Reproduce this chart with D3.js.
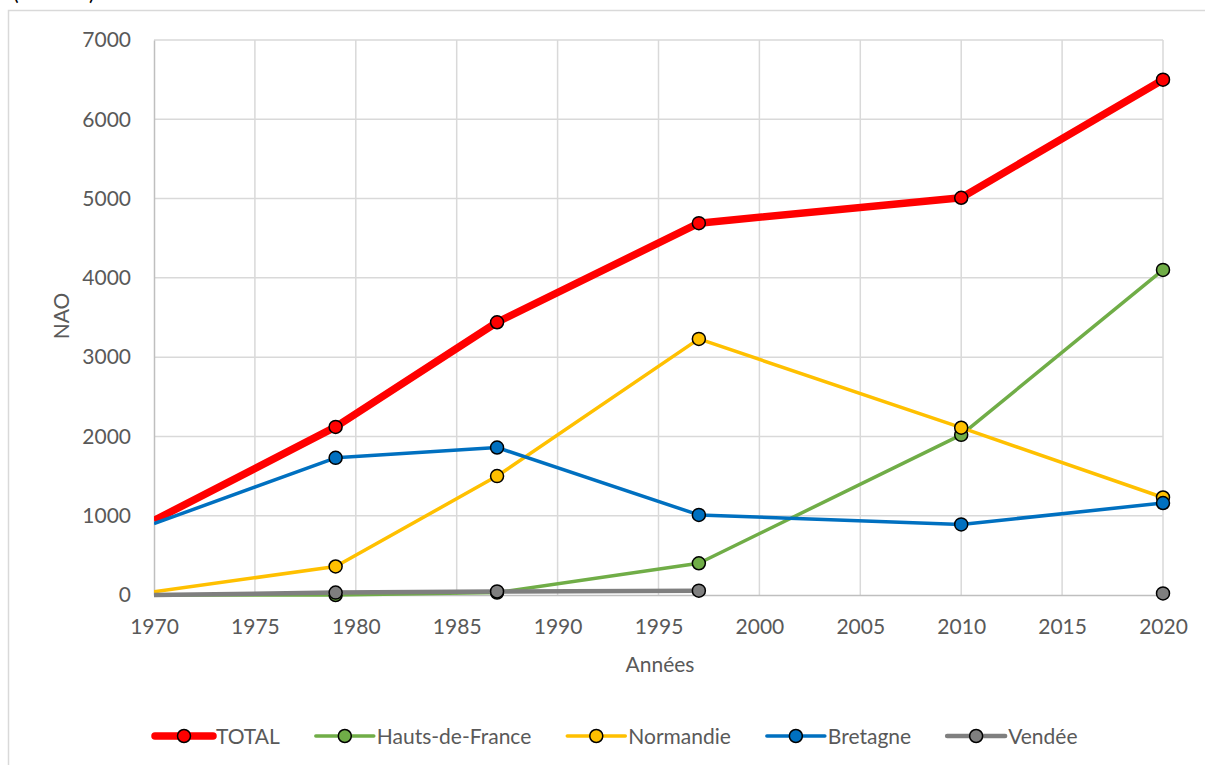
<!DOCTYPE html>
<html>
<head>
<meta charset="utf-8">
<script src="https://cdn.jsdelivr.net/npm/d3@7"></script>
<style>
  body { margin: 0; background: #fff; }
  svg { display: block; font-family: Lato, "Open Sans", sans-serif; }
</style>
</head>
<body>
<svg id="viz_area" width="1205" height="765"></svg>
<script>
// data
const years = [1970, 1979, 1987, 1997, 2010, 2020]
const total = [940, 2120, 3440, 4690, 5010, 6500]
const hautsDeFrance = [0, 0, 30, 400, 2020, 4100]
const normandie = [40, 360, 1500, 3230, 2110, 1230]
const bretagne = [900, 1730, 1860, 1010, 890, 1160]
const vendee = [0, 30, 45, 55, null, 20]

const xTicks = [1970, 1975, 1980, 1985, 1990, 1995, 2000, 2005, 2010, 2015, 2020]
const yTicks = [0, 1000, 2000, 3000, 4000, 5000, 6000, 7000]

const series = [
  { name: 'TOTAL', values: total, color: '#ff0000', width: 7.5 },
  { name: 'Hauts-de-France', values: hautsDeFrance, color: '#70ad47', width: 3.5 },
  { name: 'Normandie', values: normandie, color: '#ffc000', width: 3.5 },
  { name: 'Bretagne', values: bretagne, color: '#0070c0', width: 3.5 },
  { name: 'Vendée', values: vendee, color: '#7f7f7f', width: 4.5 }
]

const plot = { left: 154, right: 1163, top: 40, bottom: 595 }
const textColor = '#595959'
const fontSize = 21

const svg = d3.select('#viz_area')

// outer chart frame (runs off the page on right/bottom)
svg.append('rect')
  .attr('x', 8.5).attr('y', 10.5)
  .attr('width', 1300).attr('height', 800)
  .attr('fill', 'none')
  .attr('stroke', '#d9d9d9')
  .attr('stroke-width', 1.5)

// title above the frame, cut off by the page top as in the source
svg.append('text')
  .attr('x', 13).attr('y', 0)
  .attr('font-size', 21)
  .attr('fill', '#000')
  .text('(nombre)')

const xScale = d3.scaleLinear()
  .domain([1970, 2020])
  .range([plot.left, plot.right])

const yScale = d3.scaleLinear()
  .domain([0, 7000])
  .range([plot.bottom, plot.top])

// gridlines
const grid = svg.append('g').attr('class', 'grid')
grid.selectAll('line.v')
  .data(xTicks.slice(1))
  .enter().append('line')
  .attr('class', 'v')
  .attr('x1', d => xScale(d)).attr('x2', d => xScale(d))
  .attr('y1', plot.top).attr('y2', plot.bottom)
  .attr('stroke', '#d9d9d9').attr('stroke-width', 1.5)

grid.selectAll('line.h')
  .data(yTicks.slice(1))
  .enter().append('line')
  .attr('class', 'h')
  .attr('x1', plot.left).attr('x2', plot.right)
  .attr('y1', d => yScale(d)).attr('y2', d => yScale(d))
  .attr('stroke', '#d9d9d9').attr('stroke-width', 1.5)

// axes
svg.append('g')
  .attr('class', 'x axis')
  .attr('transform', 'translate(0,' + plot.bottom + ')')
  .call(d3.axisBottom(xScale).tickValues(xTicks).tickFormat(d3.format('d')).tickSize(0).tickPadding(24))
svg.append('g')
  .attr('class', 'y axis')
  .attr('transform', 'translate(' + plot.left + ',0)')
  .call(d3.axisLeft(yScale).tickValues(yTicks).tickFormat(d3.format('d')).tickSize(0).tickPadding(23))

svg.selectAll('.axis .domain').attr('stroke', '#bfbfbf').attr('stroke-width', 1.5)
svg.selectAll('.axis text')
  .attr('font-family', 'Lato, sans-serif')
  .attr('font-size', fontSize)
  .attr('fill', textColor)

// axis titles
svg.append('text')
  .attr('x', 660).attr('y', 672)
  .attr('text-anchor', 'middle')
  .attr('font-size', fontSize)
  .attr('fill', textColor)
  .text('Années')

svg.append('text')
  .attr('transform', 'translate(69,316) rotate(-90)')
  .attr('text-anchor', 'middle')
  .attr('font-size', fontSize)
  .attr('fill', textColor)
  .text('NAO')

// lines and markers
svg.append('clipPath').attr('id', 'plot-clip')
  .append('rect')
  .attr('x', plot.left).attr('y', plot.top - 10)
  .attr('width', plot.right - plot.left + 10)
  .attr('height', plot.bottom - plot.top + 20)

const line = d3.line()
  .defined(d => d.v != null)
  .x(d => xScale(d.year))
  .y(d => yScale(d.v))

const marks = svg.append('g').attr('class', 'series')

series.forEach(function (s) {
  const pts = years.map((y, i) => ({ year: y, v: s.values[i] }))
  const g = marks.append('g')

  g.append('path')
    .datum(pts)
    .attr('d', line)
    .attr('fill', 'none')
    .attr('stroke', s.color)
    .attr('stroke-width', s.width)
    .attr('stroke-linejoin', 'round')
    .attr('clip-path', 'url(#plot-clip)')

  // no marker on the axis-start point
  g.selectAll('circle')
    .data(pts.filter(d => d.v != null && d.year > 1970))
    .enter().append('circle')
    .attr('cx', d => xScale(d.year))
    .attr('cy', d => yScale(d.v))
    .attr('r', 6.5)
    .attr('fill', s.color)
    .attr('stroke', '#000')
    .attr('stroke-width', 1.5)
})

// legend
const legend = svg.append('g').attr('class', 'legend')
let lx = 155
const ly = 736
series.forEach(function (s) {
  const item = legend.append('g')
  item.append('line')
    .attr('x1', lx).attr('x2', lx + 58)
    .attr('y1', ly).attr('y2', ly)
    .attr('stroke', s.color)
    .attr('stroke-width', s.width)
    .attr('stroke-linecap', 'round')
  item.append('circle')
    .attr('cx', lx + 29).attr('cy', ly)
    .attr('r', 6.5)
    .attr('fill', s.color)
    .attr('stroke', '#000')
    .attr('stroke-width', 1.5)
  const t = item.append('text')
    .attr('x', lx + 61).attr('y', ly + 7.5)
    .attr('font-size', fontSize)
    .attr('fill', textColor)
    .text(s.name)
  lx += 61 + t.node().getComputedTextLength() + 36
})
</script>
</body>
</html>
